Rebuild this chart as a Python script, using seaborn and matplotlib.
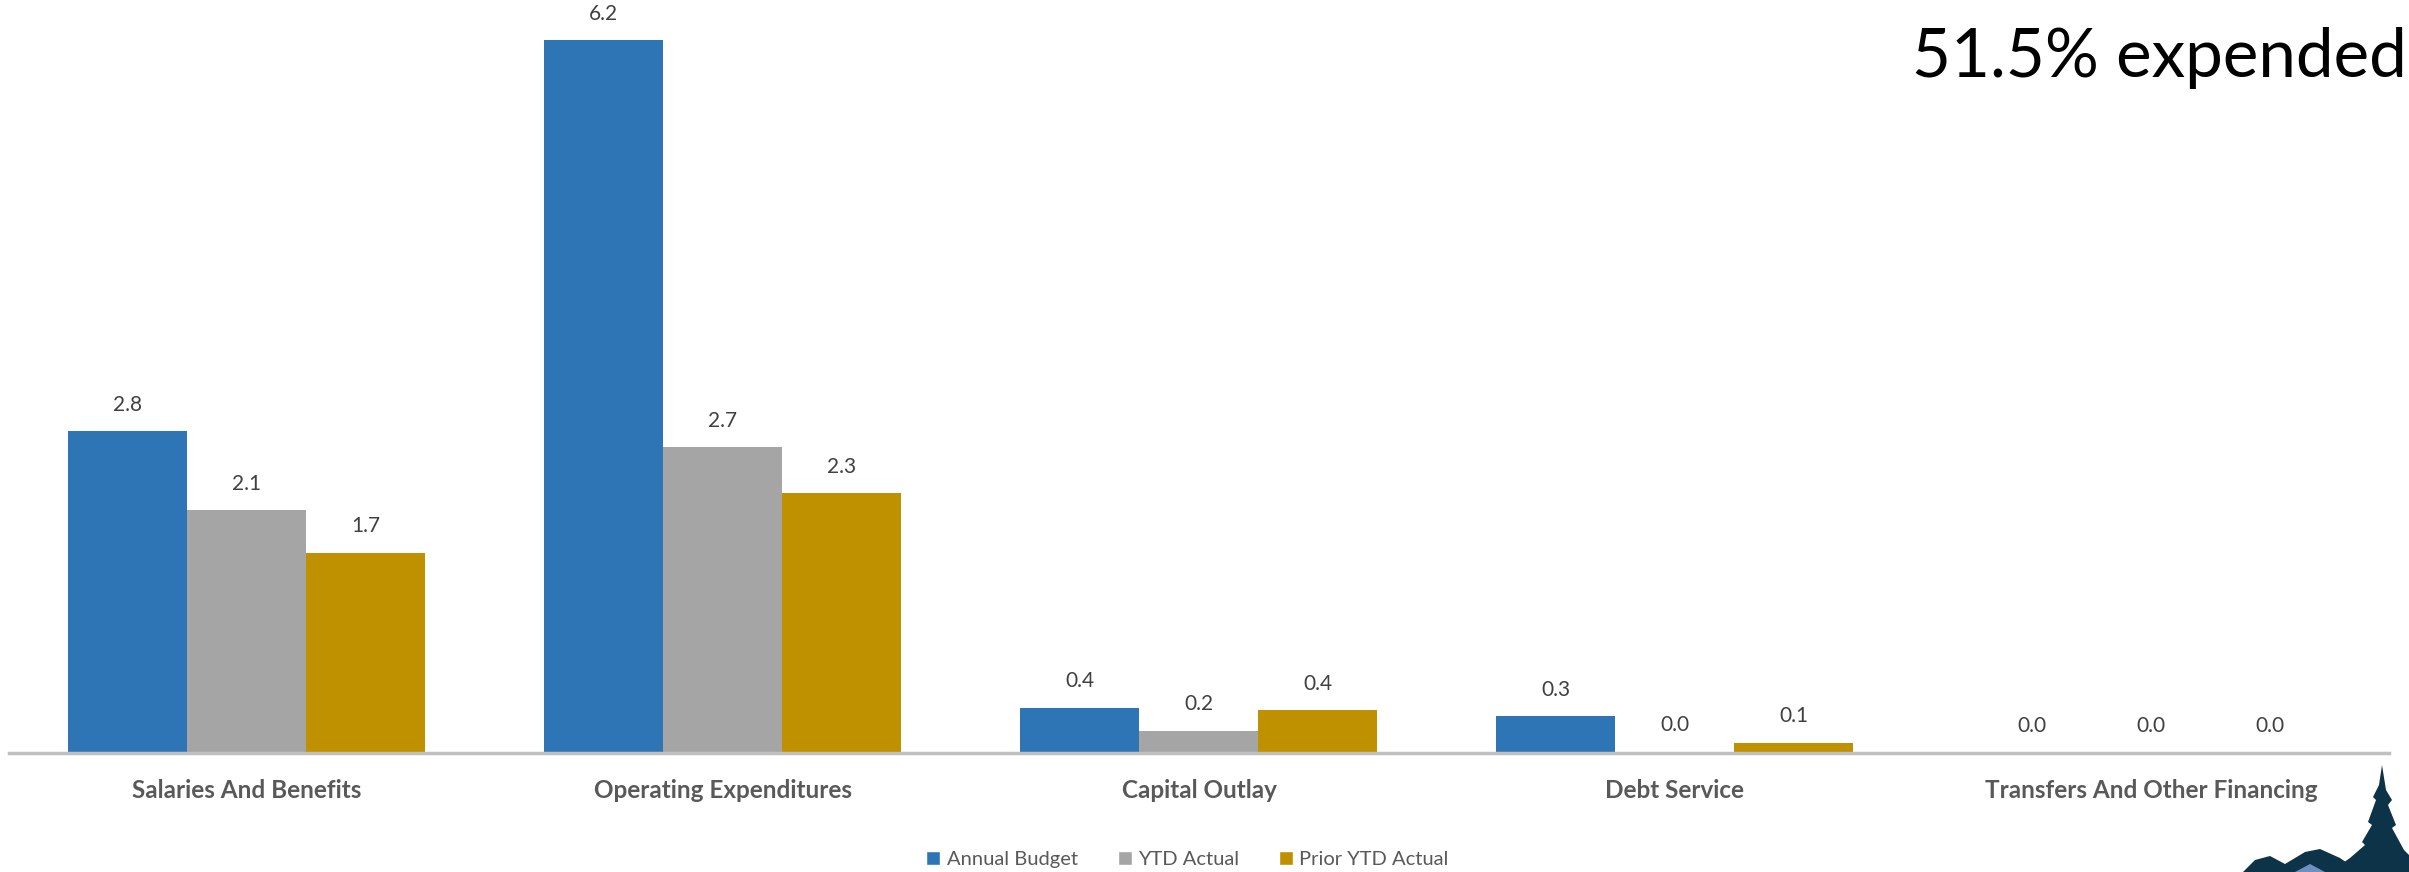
import matplotlib
matplotlib.use('Agg')
import matplotlib.pyplot as plt
import pandas as pd
import seaborn as sns
from matplotlib.patches import Polygon, Patch

# 数据
categories = ['Salaries And Benefits', 'Operating Expenditures', 'Capital Outlay',
              'Debt Service', 'Transfers And Other Financing']
annual_budget = [2.8, 6.2, 0.39, 0.32, 0.0]
ytd_actual = [2.11, 2.66, 0.19, 0.01, 0.0]
prior_ytd_actual = [1.74, 2.26, 0.37, 0.09, 0.0]
series_names = ['Annual Budget', 'YTD Actual', 'Prior YTD Actual']
colors = ['#2E75B6', '#A5A5A5', '#BF9000']

df = pd.DataFrame({
    'category': categories * 3,
    'series': [s for s in series_names for _ in categories],
    'value': annual_budget + ytd_actual + prior_ytd_actual,
})

sns.set_theme(style='white')
plt.rcParams['font.family'] = ['Lato', 'DejaVu Sans']

fig = plt.figure(figsize=(24.09, 8.72), dpi=100)
ax = fig.add_axes([0.0037, 0.1365, 0.988, 0.8567])

sns.barplot(data=df, x='category', y='value', hue='series', order=categories,
            hue_order=series_names, palette=colors, width=0.75, ax=ax,
            legend=False, saturation=1, linewidth=0, edgecolor='none')

# 数据标签
for cont in ax.containers:
    ax.bar_label(cont, labels=[f'{v:.1f}' for v in cont.datavalues],
                 padding=12, fontsize=15, color='#404040')

ax.set_ylim(0, 6.5)
ax.set_xlim(-0.5, 4.5)
ax.set_xlabel('')
ax.set_ylabel('')
ax.set_yticks([])
for s in ['top', 'right', 'left']:
    ax.spines[s].set_visible(False)
ax.spines['bottom'].set_color('#BFBFBF')
ax.spines['bottom'].set_linewidth(2.5)
ax.tick_params(axis='x', length=0, pad=19)
for lbl in ax.get_xticklabels():
    lbl.set_fontsize(17.5)
    lbl.set_fontweight('bold')
    lbl.set_color('#595959')

# 右上角标题
fig.text(0.999, 0.934, '51.5% expended', ha='right', va='center',
         fontsize=48.5, color='black')

# 图例
handles = [Patch(facecolor=c, label=n) for c, n in zip(colors, series_names)]
fig.legend(handles=handles, loc='center', bbox_to_anchor=(0.493, 0.014), ncol=3,
           frameon=False, fontsize=14.5, handlelength=0.7, handleheight=0.7,
           handletextpad=0.3, columnspacing=2.0, labelcolor='#595959')

# 右下角标志（近似）
W, H = 2409, 872
tree = [(2382, 765), (2386, 790), (2392, 800), (2388, 805), (2396, 825), (2392, 828),
        (2404, 850), (2409, 855), (2409, 872), (2330, 872), (2350, 858), (2365, 845),
        (2362, 842), (2372, 825), (2368, 822), (2376, 800), (2373, 797), (2379, 785)]
hills = [(2243, 872), (2255, 860), (2270, 856), (2285, 864), (2305, 852), (2320, 849),
         (2340, 858), (2360, 872)]
for pts in [tree, hills]:
    fig.patches.append(Polygon([(x / W, 1 - y / H) for x, y in pts], closed=True,
                               transform=fig.transFigure, facecolor='#0D3349',
                               edgecolor='none'))
light = [(2295, 872), (2310, 864), (2325, 872)]
fig.patches.append(Polygon([(x / W, 1 - y / H) for x, y in light], closed=True,
                           transform=fig.transFigure, facecolor='#6F8FC0',
                           edgecolor='none'))

fig.savefig('out.png', dpi=100, facecolor='white')
